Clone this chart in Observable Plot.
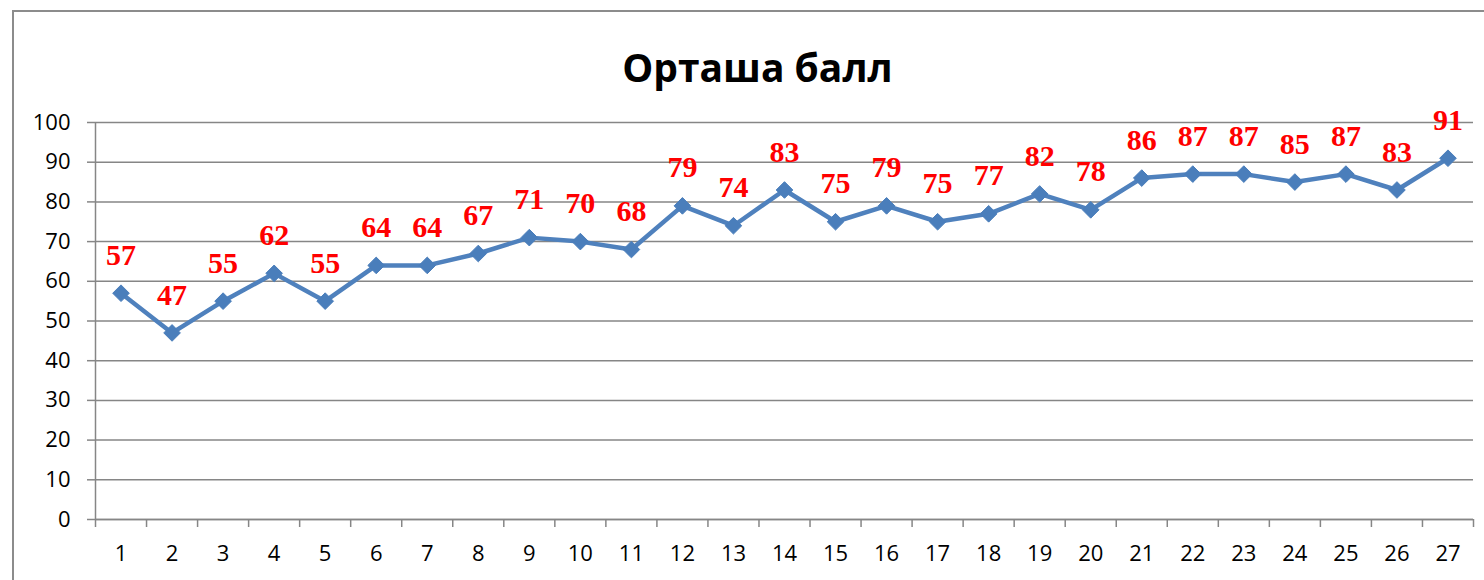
<!DOCTYPE html>
<html>
<head>
<meta charset="utf-8">
<script src="https://cdn.jsdelivr.net/npm/d3@7"></script>
<script src="https://cdn.jsdelivr.net/npm/@observablehq/plot@0.6"></script>
<style>
  html, body { margin: 0; padding: 0; background: #fff; }
  #wrap { position: relative; width: 1484px; height: 580px; overflow: hidden; }
  #border { position: absolute; left: 12px; top: 10px; width: 1500px; height: 600px; border: 2px solid #8c8c8c; box-sizing: border-box; }
  #chart { position: absolute; left: 0; top: 0; }
</style>
</head>
<body>
<div id="wrap">
  <div id="border"></div>
  <div id="chart"></div>
</div>
<script>
const title = "Орташа балл";
const categories = [1,2,3,4,5,6,7,8,9,10,11,12,13,14,15,16,17,18,19,20,21,22,23,24,25,26,27];
const values = [57,47,55,62,55,64,64,67,71,70,68,79,74,83,75,79,75,77,82,78,86,87,87,85,87,83,91];
const yTicks = [0,10,20,30,40,50,60,70,80,90,100];

const data = categories.map((c, i) => ({cat: c, value: values[i]}));
const boundaries = [0, ...categories].map(c => c + 0.5);

const axisColor = "#868686";
const sansFont = "'Open Sans', 'Liberation Sans', sans-serif";

const plot = Plot.plot({
  width: 1484,
  height: 580,
  marginLeft: 95,
  marginRight: 11,
  marginTop: 122,
  marginBottom: 61,
  style: { fontFamily: sansFont, fontSize: "22px", color: "#000", background: "transparent" },
  x: { type: "linear", domain: [0.5, 27.5] },
  y: { domain: [0, 100] },
  marks: [
    Plot.gridY(yTicks, { stroke: axisColor, strokeOpacity: 1, strokeWidth: 1.5 }),
    Plot.axisY(yTicks, { tickSize: 8, tickPadding: 17, stroke: axisColor, strokeWidth: 1.5, fill: "#000", fontSize: 22, label: null }),
    Plot.ruleX([0.5], { y1: 0, y2: 100, stroke: axisColor, strokeWidth: 1.5 }),
    Plot.ruleY([0], { stroke: axisColor, strokeWidth: 1.5 }),
    Plot.axisX(boundaries, { tickSize: 8, tickFormat: () => "", stroke: axisColor, strokeWidth: 1.5, label: null }),
    Plot.axisX(categories, { tickSize: 0, tickPadding: 26, fill: "#000", fontSize: 22, label: null }),
    Plot.line(data, { x: "cat", y: "value", stroke: "#4F81BD", strokeWidth: 4.5 }),
    Plot.dot(data, { x: "cat", y: "value", symbol: "diamond2", r: 7.5, fill: "#4A7EBB", stroke: "#4A7EBB", strokeWidth: 1 }),
    Plot.text(data, { x: "cat", y: "value", text: d => String(d.value), dy: -38, fill: "#FF0000", fontSize: 30, fontWeight: "bold", fontFamily: "'Liberation Serif', 'Times New Roman', serif" }),
    Plot.text([title], { frameAnchor: "top", dy: -68, dx: -27, fontSize: 39, fontWeight: "bold", fill: "#000", fontFamily: sansFont })
  ]
});
document.getElementById("chart").appendChild(plot);
</script>
</body>
</html>
